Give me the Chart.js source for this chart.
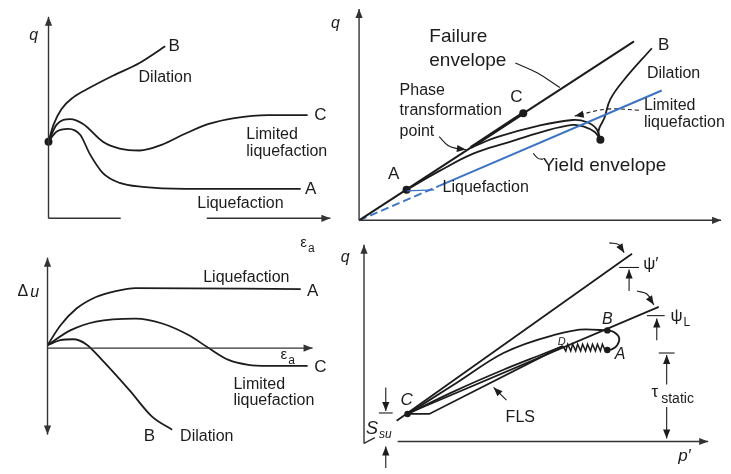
<!DOCTYPE html>
<html>
<head>
<meta charset="utf-8">
<script src="https://cdn.jsdelivr.net/npm/chart.js@4.4.0/dist/chart.umd.min.js"></script>
<style>
  html, body { margin: 0; padding: 0; background: #fff; }
  #wrap { width: 731px; height: 474px; }
</style>
</head>
<body>
<div id="wrap"><canvas id="chart" width="731" height="474"></canvas></div>
<script>
// ---- panel 1: deviator stress q against axial strain ----
var p1AxisY = [[0, 0], [0, 205]];
var p1AxisX1 = [[0, 0], [73, 0]];
var p1AxisX2 = [[160, 0], [285, 0]];
var p1Start = [[0, 78]];
var qStrainB = [[0, 78], [5, 95], [13, 111], [25, 123], [42, 133], [65, 145], [92, 158], [118, 175]];
var qStrainC = [[0, 78], [8, 95], [22, 101], [35, 96], [55, 78], [72, 71], [92, 69], [115, 75], [138, 86], [162, 96], [188, 102], [222, 105], [262, 105]];
var qStrainA = [[0, 78], [8, 88], [20, 91], [32, 85], [42, 65], [55, 46], [72, 36], [95, 32], [138, 30], [255, 30]];

// ---- panel 2: stress paths q against p' ----
var p2AxisY = [[0, 0], [0, 215]];
var p2AxisX = [[0, 0], [366, 0]];
var failureEnvelope = [[0, 0], [278, 182]];
var yieldDashed = [[0, 0], [81, 35]];
var yieldSolid = [[81, 35], [306, 132]];
var phaseToC = [[113, 74], [166, 109]];
var pathB = [[244, 82], [242, 88], [243, 94], [248, 104], [254, 123], [268, 143], [296, 175]];
var pathC = [[244, 82], [240, 93], [230, 100], [216, 102], [181, 96], [141, 85], [113, 74]];
var pathA = [[244, 82], [238, 90], [228, 95], [216, 97], [185, 90], [150, 79], [116, 68], [81, 50], [48, 31]];
var p2Dots = [[48, 31], [166, 109], [244, 82]];

// ---- panel 3: excess pore pressure against axial strain ----
var p3AxisY = [[0, -88], [0, 92]];
var p3AxisX = [[0, 0], [268, 0]];
var duA = [[0, 3], [13, 23], [29, 40], [49, 52], [69, 58], [89, 61], [256, 60]];
var duC = [[0, 3], [23, 18], [49, 27], [89, 30], [116, 25], [143, 13], [163, 0], [183, -12], [203, -17], [223, -18], [263, -18]];
var duB = [[0, 3], [13, 8], [26, 9], [39, 4], [56, -13], [83, -43], [106, -70], [126, -83]];

// ---- panel 4: flow liquefaction surface ----
var p4AxisY = [[0, -2], [0, 200]];
var p4AxisFoot = [[0, -2], [11, 4]];
var p4AxisX = [[34, 0], [348, 0]];
var psiPrimeLine = [[33, 21], [271, 191]];
var psiLLine = [[43, 28], [298, 137]];
var curveCB = [[44, 28], [91, 58], [141, 90], [191, 108], [224, 114], [246, 113]];
var curveCD = [[44, 28], [91, 51], [141, 73], [181, 89], [201, 97]];
var flsPath = [[44, 28], [66, 28], [201, 97]];
var zigzagDA = [[201, 97], [204, 92], [206, 99], [209, 92], [211, 99], [214, 92], [216, 99], [219, 92], [221, 99], [224, 92], [226, 99], [229, 92], [231, 99], [234, 92], [236, 99], [239, 92], [241, 99], [244, 92], [246, 93]];
var loopBA = [[246, 113], [253, 111], [258, 105], [256, 98], [251, 94], [246, 93]];
var p4Dots = [[44, 28], [246, 113], [246, 93]];

// panel origins on the page
var W = 731, H = 474;
var origins = { 1: [45, 218], 2: [359, 220], 3: [44, 350], 4: [364, 445] };

var ink = '#1c1c1c';
var blue = '#3b73c5';
var sans = '"Liberation Sans", Arial, sans-serif';

var labels = [
  // panel 1
  { p: 1, s: 'q', x: -15, y: 186, f: 'italic 16px ' + sans },
  { p: 1, s: 'B', x: 127, y: 175, f: '17px ' + sans },
  { p: 1, s: 'Dilation', x: 118, y: 143 },
  { p: 1, s: 'C', x: 275, y: 105, f: '17px ' + sans },
  { p: 1, s: 'Limited', x: 200, y: 85, a: 'left' },
  { p: 1, s: 'liquefaction', x: 200, y: 68, a: 'left' },
  { p: 1, s: 'A', x: 265, y: 30, f: '17px ' + sans },
  { p: 1, s: 'Liquefaction', x: 194, y: 15 },
  { p: 1, s: '\u03b5', sub: 'a', x: 258, y: -25, f: '15px ' + sans },
  // panel 2
  { p: 2, s: 'q', x: -24, y: 200, f: 'italic 16px ' + sans },
  { p: 2, s: 'Failure', x: 71, y: 187, a: 'left', f: '19px ' + sans },
  { p: 2, s: 'envelope', x: 71, y: 162, a: 'left', f: '19px ' + sans },
  { p: 2, s: 'Phase', x: 41, y: 132, a: 'left' },
  { p: 2, s: 'transformation', x: 41, y: 112, a: 'left' },
  { p: 2, s: 'point', x: 41, y: 90, a: 'left' },
  { p: 2, s: 'C', x: 159, y: 125, f: '17px ' + sans },
  { p: 2, s: 'A', x: 35, y: 47, f: '17px ' + sans },
  { p: 2, s: 'B', x: 308, y: 178, f: '17px ' + sans },
  { p: 2, s: 'Dilation', x: 318, y: 149 },
  { p: 2, s: 'Limited', x: 288, y: 117, a: 'left' },
  { p: 2, s: 'liquefaction', x: 288, y: 99, a: 'left' },
  { p: 2, s: 'Yield envelope', x: 248, y: 55, f: '19px ' + sans },
  { p: 2, s: 'Liquefaction', x: 128, y: 33 },
  // panel 3
  { p: 3, s: '\u0394', sub2: 'u', x: -25, y: 57, f: '16px ' + sans },
  { p: 3, s: 'Liquefaction', x: 201, y: 72 },
  { p: 3, s: 'A', x: 268, y: 58, f: '17px ' + sans },
  { p: 3, s: 'C', x: 276, y: -20, f: '17px ' + sans },
  { p: 3, s: '\u03b5', sub: 'a', x: 239, y: -7, f: '15px ' + sans },
  { p: 3, s: 'Limited', x: 188, y: -37, a: 'left' },
  { p: 3, s: 'liquefaction', x: 188, y: -53, a: 'left' },
  { p: 3, s: 'B', x: 103, y: -90, f: '17px ' + sans },
  { p: 3, s: 'Dilation', x: 161, y: -90 },
  // panel 4
  { p: 4, s: 'q', x: -19, y: 187, f: 'italic 16px ' + sans },
  { p: 4, s: 'p\u2032', x: 324, y: -15, f: 'italic 17px ' + sans },
  { p: 4, s: 'C', x: 43, y: 42, f: 'italic 17px ' + sans },
  { p: 4, s: 'B', x: 246, y: 124, f: 'italic 16px ' + sans },
  { p: 4, s: 'D', x: 200, y: 101, f: 'italic 11px ' + sans },
  { p: 4, s: 'A', x: 259, y: 88, f: 'italic 16px ' + sans },
  { p: 4, s: '\u03c8\u2032', x: 290, y: 180, f: '17px ' + sans },
  { p: 4, s: '\u03c8', sub: 'L', x: 316, y: 127, f: '17px ' + sans },
  { p: 4, s: '\u03c4', x: 294, y: 50, f: '17px ' + sans },
  { p: 4, s: 'static', x: 317, y: 43, f: '14px ' + sans },
  { p: 4, s: 'S', sub: 'su', x: 8, y: 13, f: 'italic 18px ' + sans, subf: 'italic 12px ' + sans },
  { p: 4, s: 'FLS', x: 158, y: 24 }
];

function pts(a) {
  return a.map(function (p) { return { x: p[0], y: p[1] }; });
}

function line(data, p, opts) {
  return Object.assign({
    data: pts(data), xAxisID: 'x' + p, yAxisID: 'y' + p,
    showLine: true, borderColor: ink, borderWidth: 1.8, pointRadius: 0,
    tension: 0, fill: false
  }, opts || {});
}

function dots(data, p, r) {
  return {
    data: pts(data), xAxisID: 'x' + p, yAxisID: 'y' + p, showLine: false,
    pointRadius: r, pointBackgroundColor: ink, pointBorderWidth: 0
  };
}

var axisStyle = { borderColor: '#333', borderWidth: 1.4 };
var smooth = { cubicInterpolationMode: 'monotone' };
var thin = { borderWidth: 1.1 };

var datasets = [
  // panel 1
  line(p1AxisY, 1, Object.assign({ arrow: 'end' }, axisStyle)),
  line(p1AxisX1, 1, axisStyle),
  line(p1AxisX2, 1, Object.assign({ arrow: 'end' }, axisStyle)),
  line(qStrainB, 1, smooth),
  line(qStrainC, 1, smooth),
  line(qStrainA, 1, smooth),
  dots(p1Start, 1, 4),
  // panel 2
  line(p2AxisY, 2, Object.assign({ arrow: 'end' }, axisStyle)),
  line(p2AxisX, 2, Object.assign({ arrow: 'end' }, axisStyle)),
  line(failureEnvelope, 2, { borderWidth: 2 }),
  line(yieldDashed, 2, { borderColor: blue, borderWidth: 2, borderDash: [8, 4] }),
  line(yieldSolid, 2, { borderColor: blue, borderWidth: 2 }),
  line(phaseToC, 2, { borderWidth: 3.2 }),
  line(pathB, 2, { tension: 0.4 }),
  line(pathC, 2, { tension: 0.4 }),
  line(pathA, 2, { tension: 0.4 }),
  line([[48, 30], [76, 31]], 2, { borderColor: blue, borderWidth: 1.3 }),
  line([[158, 160], [180, 150], [203, 135]], 2, Object.assign({ tension: 0.4 }, thin)),
  line([[81, 85], [90, 76], [99, 73], [108, 72]], 2, Object.assign({ tension: 0.4, arrow: 'end' }, thin)),
  line([[176, 68], [181, 63], [186, 62]], 2, Object.assign({ tension: 0.4 }, thin)),
  line([[283, 112], [250, 113], [218, 106]], 2, Object.assign({ tension: 0.4, borderDash: [4, 3], arrow: 'end' }, thin)),
  dots(p2Dots, 2, 4),
  // panel 3
  line(p3AxisY, 3, Object.assign({ arrow: 'both' }, axisStyle)),
  line(p3AxisX, 3, Object.assign({ arrow: 'end' }, axisStyle)),
  line(duA, 3, smooth),
  line(duC, 3, smooth),
  line(duB, 3, smooth),
  // panel 4
  line(p4AxisY, 4, Object.assign({ arrow: 'end' }, axisStyle)),
  line(p4AxisFoot, 4, axisStyle),
  line(p4AxisX, 4, Object.assign({ arrow: 'end' }, axisStyle)),
  line(psiPrimeLine, 4),
  line(psiLLine, 4),
  line(curveCB, 4, smooth),
  line(curveCD, 4, smooth),
  line(flsPath, 4),
  line(zigzagDA, 4, { borderWidth: 1.5 }),
  line(loopBA, 4, { tension: 0.45 }),
  dots(p4Dots, 4, 3.2),
  // panel 4 annotations
  line([[248, 202], [258, 200], [263, 192]], 4, Object.assign({ tension: 0.4, arrow: 'end' }, thin)),
  line([[276, 153], [286, 150], [293, 139]], 4, Object.assign({ tension: 0.4, arrow: 'end' }, thin)),
  line([[258, 177], [278, 177]], 4, thin),
  line([[268, 153], [268, 175]], 4, Object.assign({ arrow: 'end' }, thin)),
  line([[286, 128], [304, 128]], 4, thin),
  line([[296, 103], [296, 125]], 4, Object.assign({ arrow: 'end' }, thin)),
  line([[298, 90], [314, 90]], 4, thin),
  line([[306, 58], [306, 88]], 4, Object.assign({ arrow: 'end' }, thin)),
  line([[306, 35], [306, 3]], 4, Object.assign({ arrow: 'end' }, thin)),
  line([[15, 29], [29, 29]], 4, thin),
  line([[22, 55], [22, 31]], 4, Object.assign({ arrow: 'end' }, thin)),
  line([[22, -27], [22, -5]], 4, Object.assign({ arrow: 'end' }, thin)),
  line([[144, 42], [131, 55]], 4, Object.assign({ arrow: 'end' }, thin))
];

function arrowHead(ctx, from, to, color) {
  var ang = Math.atan2(to.y - from.y, to.x - from.x);
  var len = 9, half = 3.6;
  ctx.save();
  ctx.fillStyle = color;
  ctx.beginPath();
  ctx.moveTo(to.x, to.y);
  ctx.lineTo(to.x - len * Math.cos(ang) + half * Math.sin(ang), to.y - len * Math.sin(ang) - half * Math.cos(ang));
  ctx.lineTo(to.x - len * Math.cos(ang) - half * Math.sin(ang), to.y - len * Math.sin(ang) + half * Math.cos(ang));
  ctx.closePath();
  ctx.fill();
  ctx.restore();
}

var overlay = {
  id: 'overlay',
  afterDatasetsDraw: function (chart) {
    var ctx = chart.ctx;
    chart.data.datasets.forEach(function (ds, i) {
      if (!ds.arrow) return;
      var el = chart.getDatasetMeta(i).data;
      var n = el.length;
      if (ds.arrow === 'end' || ds.arrow === 'both') {
        var last = el[n - 1];
        var prev = (last.cp1x !== undefined && ds.tension) ? { x: last.cp1x, y: last.cp1y } : el[n - 2];
        arrowHead(ctx, prev, last, ds.borderColor);
      }
      if (ds.arrow === 'both') arrowHead(ctx, el[1], el[0], ds.borderColor);
    });

    ctx.save();
    ctx.fillStyle = ink;
    ctx.textBaseline = 'middle';
    labels.forEach(function (l) {
      var px = chart.scales['x' + l.p].getPixelForValue(l.x);
      var py = chart.scales['y' + l.p].getPixelForValue(l.y);
      ctx.font = l.f || '16px ' + sans;
      ctx.textAlign = l.a || 'center';
      ctx.fillText(l.s, px, py);
      if (l.sub || l.sub2) {
        var w = ctx.measureText(l.s).width;
        var start = ctx.textAlign === 'center' ? px + w / 2 : px + w;
        ctx.textAlign = 'left';
        if (l.sub) {
          ctx.font = l.subf || '12px ' + sans;
          ctx.fillText(l.sub, start + 1, py + 6);
        } else {
          ctx.font = 'italic 16px ' + sans;
          ctx.fillText(l.sub2, start + 2, py);
        }
      }
    });
    ctx.restore();
  }
};

var scales = {};
Object.keys(origins).forEach(function (k) {
  var o = origins[k];
  scales['x' + k] = { type: 'linear', axis: 'x', display: false, min: -o[0], max: W - o[0] };
  scales['y' + k] = { type: 'linear', axis: 'y', display: false, min: o[1] - H, max: o[1] };
});

new Chart(document.getElementById('chart'), {
  type: 'scatter',
  data: { datasets: datasets },
  options: {
    responsive: false,
    animation: false,
    devicePixelRatio: 1,
    layout: { padding: 0 },
    scales: scales,
    plugins: { legend: { display: false }, tooltip: { enabled: false } }
  },
  plugins: [overlay]
});
</script>
</body>
</html>
